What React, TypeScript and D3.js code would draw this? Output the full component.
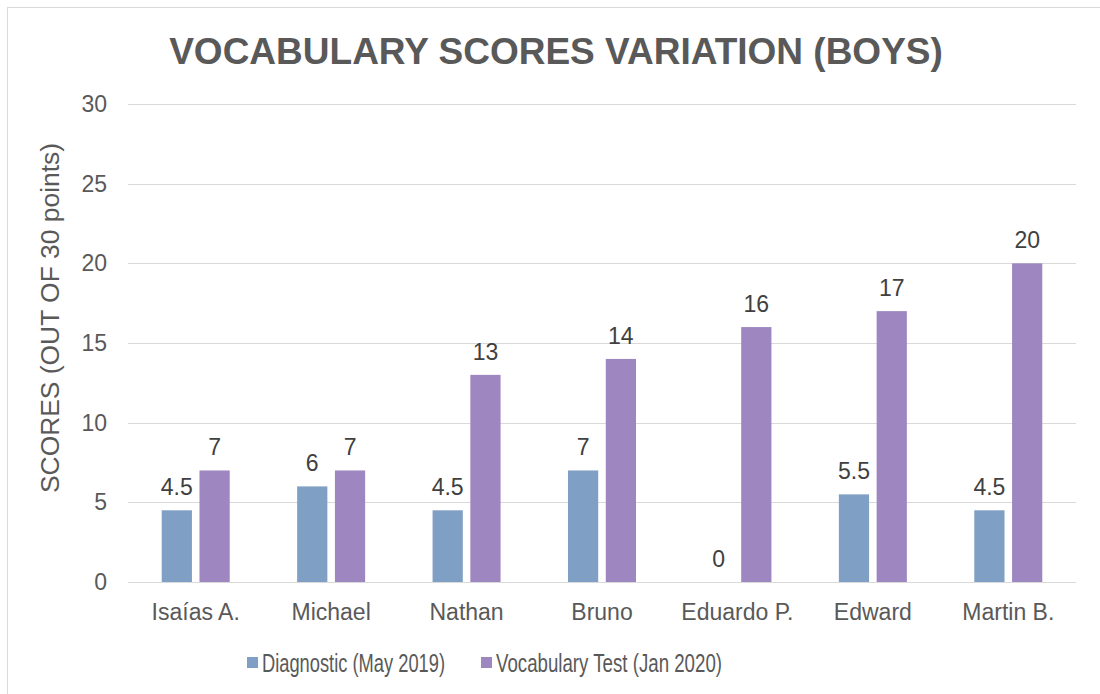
import React, { useEffect, useRef } from "react";
import * as d3 from "d3";

const students = ["Isaías A.", "Michael", "Nathan", "Bruno", "Eduardo P.", "Edward", "Martin B."];
const diagnostic = [4.5, 6, 4.5, 7, 0, 5.5, 4.5];
const vocabTest = [7, 7, 13, 14, 16, 17, 20];
const seriesNames = ["Diagnostic (May 2019)", "Vocabulary Test (Jan 2020)"];
const seriesColors = ["#7f9fc4", "#9e86c0"];
const yTicks = [0, 5, 10, 15, 20, 25, 30];

const FONT = "'Liberation Sans', Arial, sans-serif";

export default function App() {
  const ref = useRef<SVGSVGElement>(null);

  useEffect(() => {
    const svg = d3.select(ref.current);
    svg.selectAll("*").remove();

    const left = 128, right = 1076, top = 104, bottom = 582;

    // frame
    svg.append("rect")
      .attr("x", 7.5).attr("y", 7.5)
      .attr("width", 1100).attr("height", 700)
      .attr("fill", "#fff").attr("stroke", "#d9d9d9");

    const x0 = d3.scaleBand().domain(students).range([left, right]);
    const bw = x0.bandwidth();
    const x1 = d3.scaleBand().domain(seriesNames)
      .range([bw / 2 - 34, bw / 2 + 34]).paddingInner(0.2);
    const y = d3.scaleLinear().domain([0, 30]).range([bottom, top]);

    // grid
    svg.append("g").selectAll("line").data(yTicks).join("line")
      .attr("x1", left).attr("x2", right)
      .attr("y1", d => Math.round(y(d)) + 0.5).attr("y2", d => Math.round(y(d)) + 0.5)
      .attr("stroke", "#d9d9d9").attr("stroke-width", 1);

    svg.append("g").selectAll("text").data(yTicks).join("text")
      .attr("x", 107).attr("y", d => y(d) + 8)
      .attr("text-anchor", "end")
      .attr("font-family", FONT).attr("font-size", 23).attr("fill", "#595959")
      .text(d => d);

    // y title
    svg.append("text")
      .attr("transform", "translate(59,318) rotate(-90)")
      .attr("text-anchor", "middle")
      .attr("font-family", FONT).attr("font-size", 25).attr("fill", "#595959")
      .attr("textLength", 350).attr("lengthAdjust", "spacingAndGlyphs")
      .text("SCORES (OUT OF 30 points)");

    // title
    svg.append("text")
      .attr("x", 556).attr("y", 64)
      .attr("text-anchor", "middle")
      .attr("font-family", FONT).attr("font-size", 37).attr("font-weight", "bold")
      .attr("fill", "#595959")
      .text("VOCABULARY SCORES VARIATION (BOYS)");

    const series = [diagnostic, vocabTest];
    series.forEach((vals, si) => {
      const g = svg.append("g");
      g.selectAll("rect").data(vals).join("rect")
        .attr("x", (d, i) => x0(students[i])! + x1(seriesNames[si])!)
        .attr("y", d => y(d))
        .attr("width", x1.bandwidth())
        .attr("height", d => y(0) - y(d))
        .attr("fill", seriesColors[si]);
      g.selectAll("text").data(vals).join("text")
        .attr("x", (d, i) => x0(students[i])! + x1(seriesNames[si])! + x1.bandwidth() / 2)
        .attr("y", d => y(d) - 15)
        .attr("text-anchor", "middle")
        .attr("font-family", FONT).attr("font-size", 23).attr("fill", "#404040")
        .text(d => d);
    });

    // x labels
    svg.append("g").selectAll("text").data(students).join("text")
      .attr("x", d => x0(d)! + bw / 2)
      .attr("y", 620)
      .attr("text-anchor", "middle")
      .attr("font-family", FONT).attr("font-size", 23).attr("fill", "#595959")
      .text(d => d);

    // legend
    const legendX = [247, 481];
    const legendW = [183, 226];
    const lg = svg.append("g").selectAll("g").data(seriesNames).join("g")
      .attr("transform", (d, i) => `translate(${legendX[i]},657)`);
    lg.append("rect").attr("width", 11).attr("height", 11)
      .attr("fill", (d, i) => seriesColors[i]);
    lg.append("text").attr("x", 15).attr("y", 15)
      .attr("font-family", FONT).attr("font-size", 25).attr("fill", "#595959")
      .attr("textLength", (d, i) => legendW[i]).attr("lengthAdjust", "spacingAndGlyphs")
      .text(d => d);
  }, []);

  return (
    <svg ref={ref} width={1100} height={694}
      style={{ position: "absolute", left: 0, top: 0, display: "block", background: "#fff" }} />
  );
}
